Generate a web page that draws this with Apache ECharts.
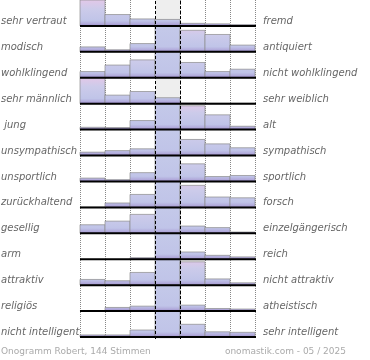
<!DOCTYPE html>
<html>
<head>
<meta charset="utf-8">
<script src="https://cdn.jsdelivr.net/npm/echarts@6/dist/echarts.min.js"></script>
<style>
html,body{margin:0;padding:0;background:#fff;}
#chart{width:370px;height:360px;}
</style>
</head>
<body>
<div id="chart"></div>
<script>
// Left-hand poles of each scale
const leftLabels = ['sehr vertraut','modisch','wohlklingend','sehr männlich',' jung','unsympathisch','unsportlich','zurückhaltend','gesellig','arm','attraktiv','religiös','nicht intelligent'];
// Right-hand poles of each scale
const rightLabels = ['fremd','antiquiert','nicht wohlklingend','sehr weiblich','alt','sympathisch','sportlich','forsch','einzelgängerisch','reich','nicht attraktiv','atheistisch','sehr intelligent'];
// Answer distribution over the 7 steps, per scale (relative to the row maximum, %)
const rowValues = [
  [100, 44, 27, 25, 10, 8, 5],
  [19, 8, 32, 100, 83, 67, 26],
  [24, 49, 69, 100, 59, 24, 33],
  [100, 33, 47, 23, 3, 2, 2],
  [9, 8, 35, 100, 92, 57, 13],
  [13, 19, 26, 100, 62, 45, 30],
  [13, 7, 34, 100, 68, 19, 23],
  [1, 17, 50, 100, 85, 40, 37],
  [33, 47, 73, 100, 28, 22, 5],
  [0, 0, 6, 100, 28, 15, 9],
  [22, 17, 49, 100, 90, 24, 9],
  [1, 14, 19, 100, 23, 10, 8],
  [8, 8, 27, 100, 49, 20, 18]
];
const steps = 7;
const middleStep = 3;
const footerLeft = 'Onogramm Robert, 144 Stimmen';
const footerRight = 'onomastik.com - 05 / 2025';

const nRows = rowValues.length;
const barData = [];
rowValues.forEach(function (row, r) {
  const m = Math.max.apply(null, row);
  row.forEach(function (v, c) { barData.push([c, r, v, m]); });
});
const rowData = leftLabels.map(function (_, r) { return [r]; });

const chart = echarts.init(document.getElementById('chart'), null, {renderer: 'canvas'});
const font = 'italic 10px "DejaVu Sans"';

chart.setOption({
  animation: false,
  grid: {left: 80, right: 115, top: -1, bottom: 23},
  xAxis: {
    type: 'value', min: 0, max: steps, interval: 1,
    axisLine: {show: false}, axisTick: {show: false}, axisLabel: {show: false},
    splitLine: {show: true, lineStyle: {color: '#888', type: [1, 1], width: 1}}
  },
  yAxis: {
    type: 'value', min: 0, max: nRows, inverse: true,
    axisLine: {show: false}, axisTick: {show: false}, axisLabel: {show: false},
    splitLine: {show: false}
  },
  series: [
    {
      type: 'custom', z: 1, silent: true,
      data: [[middleStep]],
      renderItem: function (params, api) {
        const c = api.value(0);
        const p0 = api.coord([c, 0]);
        const p1 = api.coord([c + 1, nRows]);
        return {type: 'rect', shape: {x: p0[0], y: p0[1], width: p1[0] - p0[0], height: p1[1] - p0[1] + 2},
                style: {fill: '#eeeeee'}};
      }
    },
    {
      type: 'custom', z: 2, silent: true,
      data: barData,
      renderItem: function (params, api) {
        const c = api.value(0), r = api.value(1), v = api.value(2), m = api.value(3);
        if (!v) return null;
        const p0 = api.coord([c, r]);
        const p1 = api.coord([c + 1, r + 1]);
        const rowH = p1[1] - p0[1];
        const h = rowH * v / m;
        const stops = c === middleStep ? [
          {offset: 0, color: '#c4c9e9'}, {offset: 0.8, color: '#c0c4e8'},
          {offset: 0.93, color: '#b0a8da'}, {offset: 1, color: '#9484c4'}
        ] : [
          {offset: 0, color: '#e2c8e8'}, {offset: 0.35, color: '#cccbea'},
          {offset: 0.8, color: '#c0c4e8'}, {offset: 0.93, color: '#b0a8da'}, {offset: 1, color: '#9484c4'}
        ];
        return {
          type: 'rect',
          shape: {x: p0[0], y: p1[1] - h, width: p1[0] - p0[0], height: h},
          style: {
            fill: new echarts.graphic.LinearGradient(0, p0[1], 0, p1[1], stops, true),
            stroke: 'rgba(140,140,140,0.7)', lineWidth: 1
          }
        };
      }
    },
    {
      type: 'custom', z: 3, silent: true,
      data: rowData,
      renderItem: function (params, api) {
        const r = api.value(0);
        const a = api.coord([0, r + 1]);
        const b = api.coord([steps, r + 1]);
        return {
          type: 'group',
          children: [
            {type: 'line', shape: {x1: a[0], y1: a[1], x2: b[0] + 1, y2: b[1]},
             style: {stroke: '#000', lineWidth: 2}},
            {type: 'text', x: a[0] - 79, y: a[1] - 4.5,
             style: {text: leftLabels[r], fill: '#666', font: font, align: 'left', verticalAlign: 'middle'}},
            {type: 'text', x: b[0] + 8, y: b[1] - 4.5,
             style: {text: rightLabels[r], fill: '#666', font: font, align: 'left', verticalAlign: 'middle'}}
          ]
        };
      }
    },
    {
      type: 'custom', z: 4, silent: true,
      data: [[middleStep], [middleStep + 1]],
      renderItem: function (params, api) {
        const c = api.value(0);
        const a = api.coord([c, 0]);
        const b = api.coord([c, nRows]);
        return {type: 'line', shape: {x1: Math.round(a[0]) + 0.5, y1: a[1] + 1, x2: Math.round(b[0]) + 0.5, y2: b[1] + 2},
                style: {stroke: '#000', lineWidth: 1, lineDash: [3, 2]}};
      }
    }
  ],
  graphic: [
    {type: 'text', left: 1, top: 347, style: {text: footerLeft, fill: '#aaaaaa', font: '9px "DejaVu Sans"'}},
    {type: 'text', right: 24, top: 347, style: {text: footerRight, fill: '#aaaaaa', font: '9px "DejaVu Sans"'}}
  ]
});
</script>
</body>
</html>
